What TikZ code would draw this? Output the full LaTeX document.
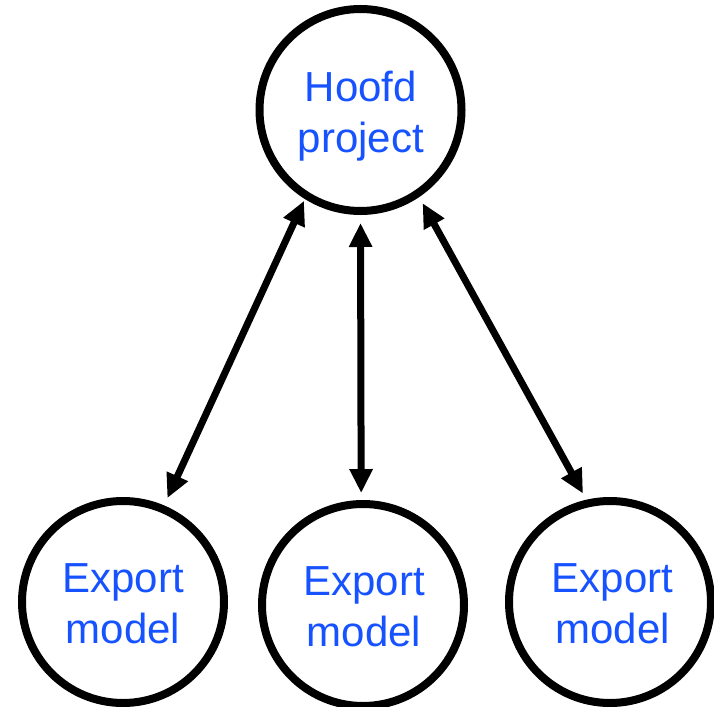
\documentclass[tikz,border=0pt]{standalone}
\usepackage{fontspec}
\setmainfont{Liberation Sans}
\usetikzlibrary{arrows.meta}
\definecolor{txtblue}{RGB}{22,82,255}
\begin{document}
\begin{tikzpicture}[x=1pt,y=-1pt,
  ring/.style={circle,draw=black,line width=8pt,minimum size=202pt,inner sep=0pt,outer sep=4pt},
  lbl/.style={anchor=base,inner sep=0pt,text=txtblue,font=\fontsize{42pt}{50pt}\selectfont},
  link/.style={line width=7pt,{Triangle[length=24pt,width=22pt]}-{Triangle[length=24pt,width=22pt]}}]
\useasboundingbox (0,0) rectangle (714,706);
\fill[white] (0,0) rectangle (714,706);
\node[ring] (top) at (360.5,110) {};
\node[ring] (bl) at (123,602) {};
\node[ring] (bm) at (363,605) {};
\node[ring] (br) at (610,602) {};
\node[lbl] (t1) at (361,102) {Hoofd};
\node[lbl] (t2) at (361,152) {project};
\node[lbl] (l1) at (123,592) {Export};
\node[lbl] (l2) at (123,643) {model};
\node[lbl] (m1) at (364,595) {Export};
\node[lbl] (m2) at (364,646.5) {model};
\node[lbl] (r1) at (612.5,592) {Export};
\node[lbl] (r2) at (612.5,643) {model};
\draw[link,shorten <=2pt,shorten >=8pt] (top.-122.6) -- (bl.67.1);
\draw[link,shorten <=8pt,shorten >=7pt] (top.-90) -- (bm.91.6);
\draw[link,shorten <=7pt,shorten >=7pt] (top.-56.1) -- (br.103.4);
\end{tikzpicture}
\end{document}
